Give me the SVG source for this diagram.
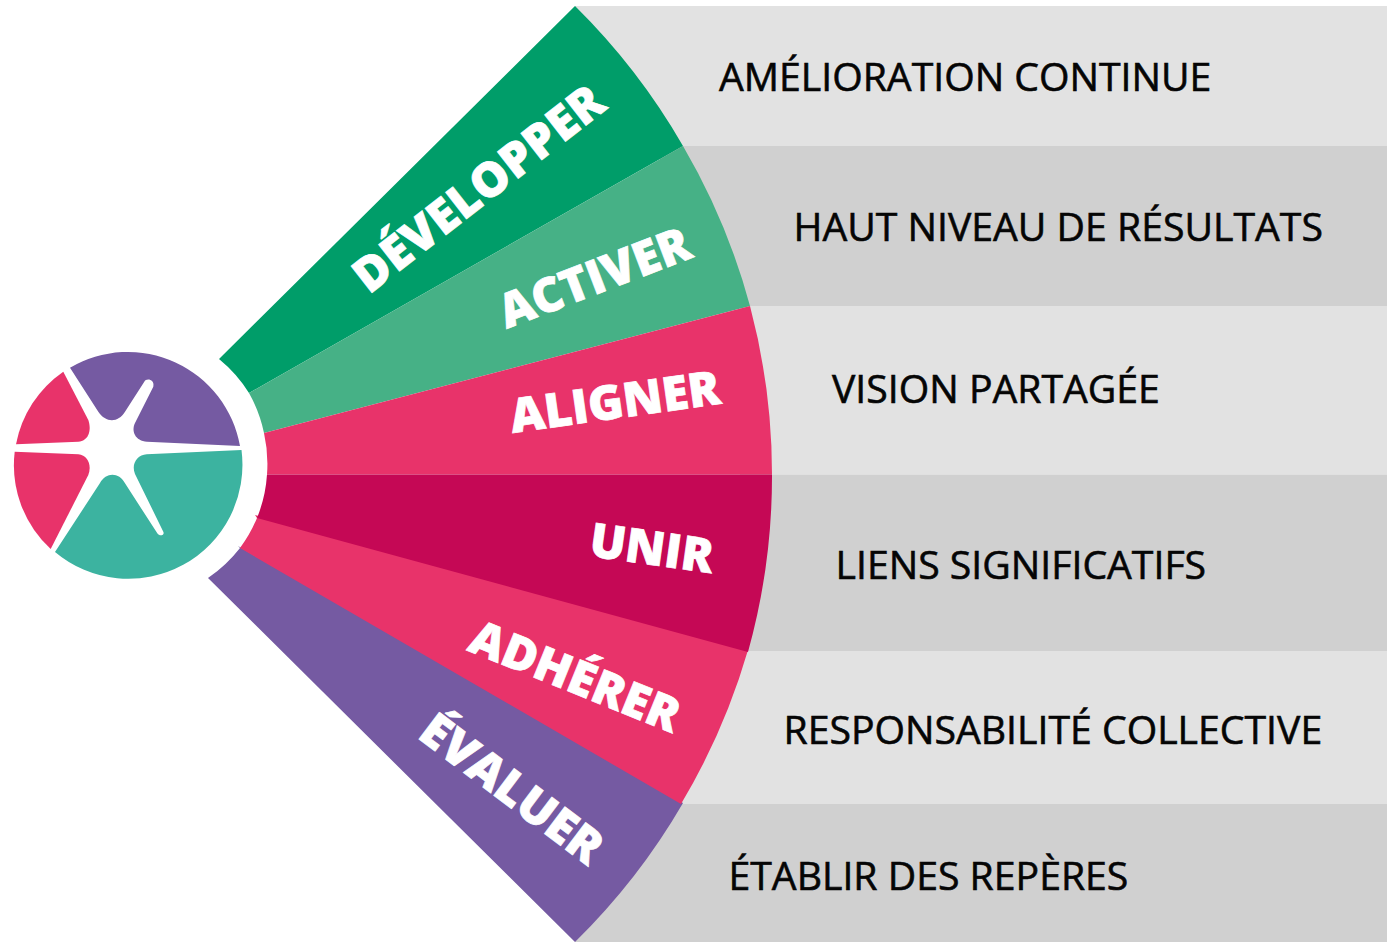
<svg xmlns="http://www.w3.org/2000/svg" width="1392" height="943" viewBox="0 0 1392 943">
<style>
.l{font-family:"Open Sans","Noto Sans",sans-serif;font-size:39.200px;font-weight:500;fill:#050505;stroke:#050505;stroke-width:.6}
.w{font-family:"Open Sans","Noto Sans",sans-serif;font-size:47.500px;font-weight:800;fill:#fff;stroke:#fff;stroke-width:.7}
.a{fill:#e2e2e2}.b{fill:#d0d0d0}
</style>
<rect width="1392" height="943" fill="#fff"/>
<g id="bands">
<rect class="a" x="575" y="6" width="812" height="140"/>
<rect class="b" x="660" y="146" width="727" height="160"/>
<rect class="a" x="740" y="306" width="647" height="168.500"/>
<rect class="b" x="740" y="474.500" width="647" height="176.500"/>
<rect class="a" x="670" y="651" width="717" height="153"/>
<rect class="b" x="575" y="804" width="812" height="138"/>
</g>
<g id="hub">
<path fill="#755aa2" d="M70,367.700A114,114 0 0 1 240,446L147,441.700C135,441 131,431 135,423L153.300,386.700C155,379 146,378 144.300,381.700L125,411.700C118,423 106,423 98.300,411.700Z"/>
<path fill="#3cb3a0" d="M241.500,450A114,114 0 0 1 55,552L100,483C106,472 119,472 125,483.300L157.300,533.300C160,537 165,535 163.300,531.700L135,474C131,464 137,455 146.700,454.300Z"/>
<path fill="#e8336a" d="M63.300,371.700L88.300,420C92,431 88,441 78.300,441.700L16,444.300A114,114 0 0 1 63.300,371.700Z"/>
<path fill="#e8336a" d="M14.700,451.700L78.300,454.300C88,455 92,466 88.300,475L50.700,549A114,114 0 0 1 14.700,451.700Z"/>
</g>
<g id="evaluer">
<path fill="#755aa2" d="M238,546L683,803A654,654 0 0 1 575,942L208,578A139,139 0 0 0 240,548Z"/>
<text class="w" transform="translate(416,737) rotate(37)">ÉVALUER</text>
</g>
<g id="developper">
<path fill="#009d69" d="M219,359L575,6A654,654 0 0 1 683,146L249,393A139,139 0 0 0 219,359Z"/>
<text class="w" transform="translate(369,295) rotate(-38)">DÉVELOPPER</text>
</g>
<g id="activer">
<path fill="#46b186" d="M249,393L683,146A654,654 0 0 1 750,306L264,433A139,139 0 0 0 249,393Z"/>
<text class="w" transform="translate(506.500,329) rotate(-21)">ACTIVER</text>
</g>
<g id="aligner">
<path fill="#e8336a" d="M264,433L750,306A654,654 0 0 1 772,474.500L267,474.500A139,139 0 0 0 264,433Z"/>
<text class="w" transform="translate(512.500,433) rotate(-8)">ALIGNER</text>
</g>
<g id="adherer">
<path fill="#e8336a" d="M255,515L748,650A654,654 0 0 1 681,804L240,548A139,139 0 0 0 257,518Z"/>
<text class="w" transform="translate(466,650) rotate(22)">ADHÉRER</text>
</g>
<g id="unir">
<path fill="#c50855" d="M267,474.500L772,474.500A654,654 0 0 1 748,652L257,518A139,139 0 0 0 267,474.500Z"/>
<text class="w" transform="translate(588,556) rotate(8)">UNIR</text>
</g>
<g id="labels">
<text class="l" x="719" y="90.500">AMÉLIORATION CONTINUE</text>
<text class="l" x="793.500" y="240.500">HAUT NIVEAU DE RÉSULTATS</text>
<text class="l" x="832" y="402.500">VISION PARTAGÉE</text>
<text class="l" x="835.500" y="578.500">LIENS SIGNIFICATIFS</text>
<text class="l" x="783.500" y="743.500">RESPONSABILITÉ COLLECTIVE</text>
<text class="l" x="728.500" y="889.500">ÉTABLIR DES REPÈRES</text>
</g>
<g id="connectors"/>
</svg>
